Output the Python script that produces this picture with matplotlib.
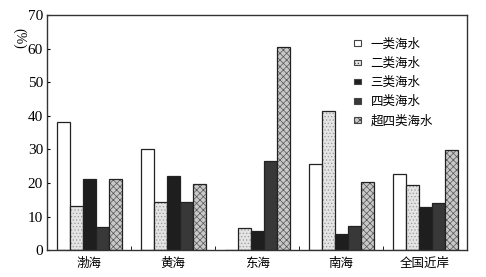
import matplotlib
matplotlib.use('Agg')
import matplotlib.pyplot as plt
import numpy as np

plt.rcParams['font.family'] = ['Liberation Serif', 'Noto Sans CJK SC']
plt.rcParams['hatch.linewidth'] = 0.5

regions = ['渤海', '黄海', '东海', '南海', '全国近岸']
series = ['一类海水', '二类海水', '三类海水', '四类海水', '超四类海水']
class1 = [38, 30, 0, 25.5, 22.7]
class2 = [13, 14.2, 6.7, 41.5, 19.3]
class3 = [21.2, 22, 5.8, 4.8, 12.7]
class4 = [7, 14.2, 26.4, 7.3, 14.1]
class5 = [21.2, 19.8, 60.6, 20.2, 29.8]

# face colour, hatch, hatch colour
styles = [
    ('white', None, None),
    ('#e4e4e4', '.....', '#9a9a9a'),
    ('#1e1e1e', None, None),
    ('#383838', None, None),
    ('#c8c8c8', 'xxxxx', '#555555'),
]

fig = plt.figure(figsize=(4.86, 2.77), dpi=100)
ax = fig.add_axes([0.097, 0.097, 0.864, 0.849])

x = np.arange(len(regions))
w = 0.155
for i, (vals, name, st) in enumerate(zip([class1, class2, class3, class4, class5], series, styles)):
    face, hatch, hcol = st
    pos = x + (i - 2) * w
    if hatch:
        # hatch first in a lighter colour, then the outline on top
        ax.bar(pos, vals, w, facecolor=face, edgecolor=hcol, linewidth=0, hatch=hatch)
        ax.bar(pos, vals, w, fill=False, edgecolor='#222222', linewidth=0.9)
    else:
        ax.bar(pos, vals, w, facecolor=face, edgecolor='#222222', linewidth=0.9)
    ax.bar([0], [0], 0, facecolor=face, edgecolor='#444444', linewidth=0.8,
           hatch=hatch, label=name)

ax.set_xlim(-0.5, len(regions) - 0.5)
ax.set_ylim(0, 70)
ax.set_yticks(range(0, 71, 10))
ax.set_xticks(x)
ax.set_xticklabels(regions, fontfamily=['Noto Sans CJK SC'], fontsize=9)
ax.set_xticks(x[:-1] + 0.5, minor=True)
ax.tick_params(axis='x', which='major', length=0, pad=5)
ax.tick_params(axis='x', which='minor', direction='in', length=3)
ax.tick_params(axis='y', direction='in', length=2, labelsize=11, pad=3)
for s in ax.spines.values():
    s.set_color('#333333')
    s.set_linewidth(1.0)

fig.text(0.04, 0.86, '(%)', rotation=-90, fontsize=10, ha='center', va='center')

leg = ax.legend(loc='upper left', bbox_to_anchor=(0.72, 0.925), frameon=False,
                prop={'family': 'Noto Sans CJK SC', 'size': 9},
                handlelength=0.5, handleheight=0.3, handletextpad=0.8,
                labelspacing=0.5, borderaxespad=0)

fig.savefig('out.png', dpi=100)
